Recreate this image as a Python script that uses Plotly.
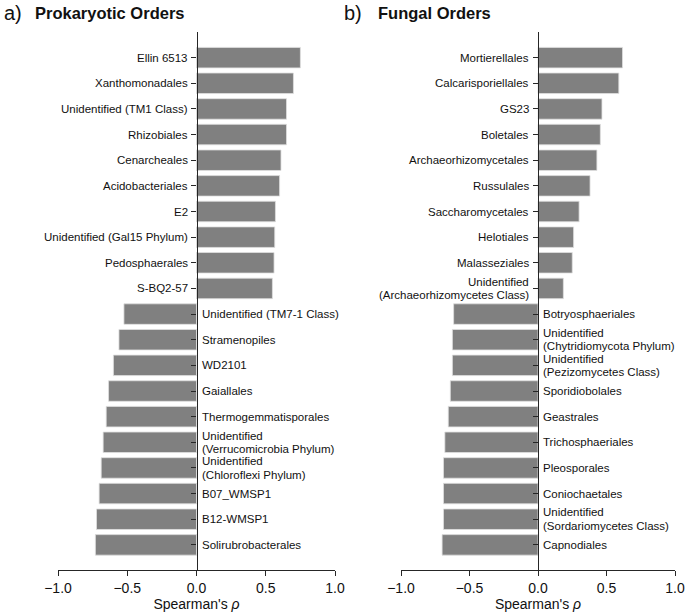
import plotly.graph_objects as go

prok_orders = [
    "Ellin 6513", "Xanthomonadales", "Unidentified (TM1 Class)", "Rhizobiales",
    "Cenarcheales", "Acidobacteriales", "E2", "Unidentified (Gal15 Phylum)",
    "Pedosphaerales", "S-BQ2-57", "Unidentified (TM7-1 Class)", "Stramenopiles",
    "WD2101", "Gaiallales", "Thermogemmatisporales",
    "Unidentified<br>(Verrucomicrobia Phylum)", "Unidentified<br>(Chloroflexi Phylum)",
    "B07_WMSP1", "B12-WMSP1", "Solirubrobacterales",
]
prok_rho = [0.75, 0.70, 0.65, 0.65, 0.61, 0.60, 0.57, 0.565, 0.56, 0.548,
            -0.524, -0.56, -0.60, -0.635, -0.652, -0.674, -0.688, -0.703, -0.722, -0.73]

fung_orders = [
    "Mortierellales", "Calcarisporiellales", "GS23", "Boletales",
    "Archaeorhizomycetales", "Russulales", "Saccharomycetales", "Helotiales",
    "Malasseziales", "Unidentified<br>(Archaeorhizomycetes Class)",
    "Botryosphaeriales", "Unidentified<br>(Chytridiomycota Phylum)",
    "Unidentified<br>(Pezizomycetes Class)", "Sporidiobolales", "Geastrales",
    "Trichosphaeriales", "Pleosporales", "Coniochaetales",
    "Unidentified<br>(Sordariomycetes Class)", "Capnodiales",
]
fung_rho = [0.617, 0.59, 0.467, 0.455, 0.43, 0.38, 0.30, 0.26, 0.25, 0.185,
            -0.616, -0.625, -0.625, -0.64, -0.655, -0.68, -0.69, -0.69, -0.69, -0.70]

x_ticks = [-1.0, -0.5, 0.0, 0.5, 1.0]
x_ticklabels = ["\u22121.0", "\u22120.5", "0.0", "0.5", "1.0"]

W, H = 685, 612
FONT = "Liberation Sans, Arial, sans-serif"
BAR = "#808080"
AX = "#262626"

dom1 = [58 / W, 335 / W]
dom2 = [401 / W, 675 / W]
ydom = [1 - 570 / H, 1 - 32 / H]

fig = go.Figure()
for cats, vals, xa, ya in [(prok_orders, prok_rho, "x", "y"), (fung_orders, fung_rho, "x2", "y2")]:
    fig.add_trace(go.Bar(
        x=vals, y=cats, orientation="h", xaxis=xa, yaxis=ya, width=0.8,
        marker=dict(color=BAR, line=dict(color="#e0e0e0", width=0.8)),
        showlegend=False, hoverinfo="x+y",
    ))

annotations = []
for cats, vals, xa, ya in [(prok_orders, prok_rho, "x", "y"), (fung_orders, fung_rho, "x2", "y2")]:
    for c, v in zip(cats, vals):
        pos = v > 0
        lines = c.split("<br>")
        n = len(lines)
        for i, ln in enumerate(lines):
            yshift = ((n - 1) / 2 - i) * 13.5
            annotations.append(dict(
                x=0, y=c, xref=xa, yref=ya, text=ln, showarrow=False,
                xanchor="right" if pos else "left",
                align="right" if pos else "left",
                xshift=-7 if pos else 3, yshift=yshift,
                font=dict(family=FONT, size=11.5, color="#111"),
            ))

# panel titles
annotations += [
    dict(x=2 / W, y=1 - 13 / H, xref="paper", yref="paper", text="a)", showarrow=False,
         xanchor="left", yanchor="middle", font=dict(family=FONT, size=20, color="#111")),
    dict(x=33 / W, y=1 - 13 / H, xref="paper", yref="paper", text="<b>Prokaryotic Orders</b>",
         showarrow=False, xanchor="left", yanchor="middle", font=dict(family=FONT, size=16.5, color="#111")),
    dict(x=342 / W, y=1 - 13 / H, xref="paper", yref="paper", text="b)", showarrow=False,
         xanchor="left", yanchor="middle", font=dict(family=FONT, size=20, color="#111")),
    dict(x=376 / W, y=1 - 13 / H, xref="paper", yref="paper", text="<b>Fungal Orders</b>",
         showarrow=False, xanchor="left", yanchor="middle", font=dict(family=FONT, size=16.5, color="#111")),
]

xcommon = dict(
    range=[-1, 1], tickvals=x_ticks, ticktext=x_ticklabels, showline=True, linecolor=AX, linewidth=1.3,
    ticks="outside", ticklen=5, tickwidth=1.3, tickcolor=AX, showgrid=False, zeroline=False,
    tickfont=dict(family=FONT, size=14, color="#111"),
    title=dict(text="Spearman's <i>\u03c1</i>", font=dict(family=FONT, size=14, color="#111"), standoff=4),
    automargin=False,
)
ycommon = dict(
    showline=True, linecolor=AX, linewidth=1.3, ticks="outside", ticklen=5, tickwidth=1.3,
    tickcolor=AX, showticklabels=False, showgrid=False, zeroline=False, range=[19.98, -1.0],
    type="category", domain=ydom, anchor="free", automargin=False,
)

fig.update_layout(
    width=W, height=H, margin=dict(l=0, r=0, t=0, b=0),
    plot_bgcolor="white", paper_bgcolor="white",
    xaxis=dict(domain=dom1, anchor="y", **xcommon),
    xaxis2=dict(domain=dom2, anchor="y2", **xcommon),
    yaxis=dict(categoryorder="array", categoryarray=prok_orders,
               position=(dom1[0] + dom1[1]) / 2, **ycommon),
    yaxis2=dict(categoryorder="array", categoryarray=fung_orders,
                position=(dom2[0] + dom2[1]) / 2, **ycommon),
    annotations=annotations,
    bargap=0.2,
)

fig.write_html("out.html", config={"displayModeBar": False},
               post_script="document.body.style.margin='0px';document.body.style.overflow='hidden';")
